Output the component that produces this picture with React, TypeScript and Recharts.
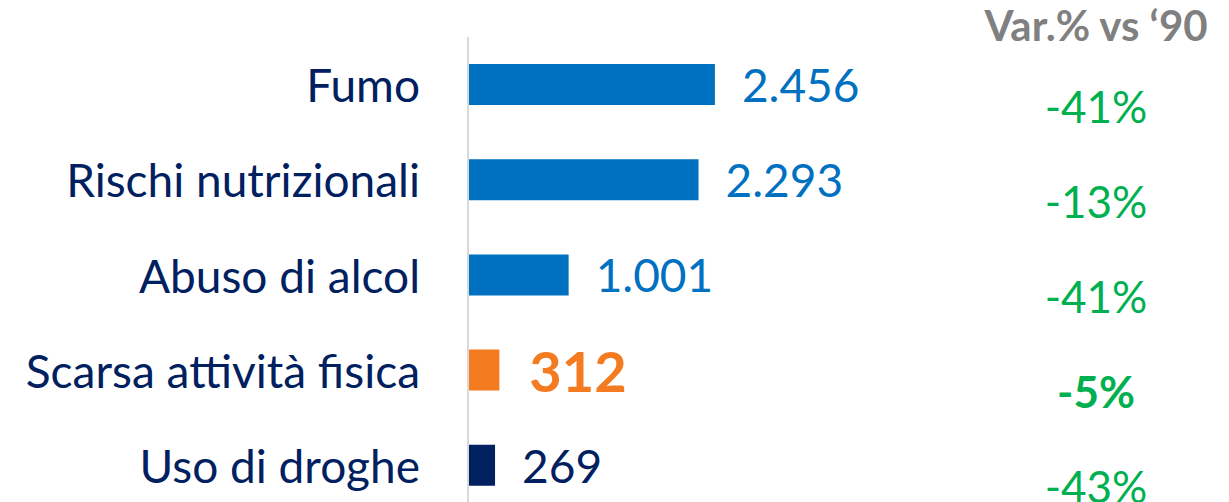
import React from 'react';
import { BarChart, Bar, XAxis, YAxis, Cell, LabelList } from 'recharts';

const categories = ['Fumo', 'Rischi nutrizionali', 'Abuso di alcol', 'Scarsa attività fisica', 'Uso di droghe'];
const values = [2456, 2293, 1001, 312, 269];
const variations = ['-41%', '-13%', '-41%', '-5%', '-43%'];
const barColors = ['#0070C0', '#0070C0', '#0070C0', '#F47B20', '#002060'];
const highlightIndex = 3;
const headerText = 'Var.% vs \u201890';

const data = categories.map((name, i) => ({ name, value: values[i], variation: variations[i] }));

const FONT = 'Lato, "Noto Sans", sans-serif';

const fmt = (v: number) => String(v).replace(/\B(?=(\d{3})+(?!\d))/g, '.');

const ValueLabel = (props: any) => {
  const { x, y, width, height, index, value } = props;
  const bold = index === highlightIndex;
  return (
    <text
      x={Number(x) + Number(width) + (bold ? 30 : 27)}
      y={Number(y) + Number(height) / 2}
      dominantBaseline="central"
      fill={barColors[index]}
      fontSize={bold ? 56 : 46}
      fontWeight={bold ? 700 : 400}
      fontFamily={FONT}
    >
      {fmt(Number(value))}
    </text>
  );
};

// Category label on the left plus the variation column on the right of the same row
const CategoryTick = (props: any) => {
  const { x, y, payload } = props;
  const i = payload.index;
  const bold = i === highlightIndex;
  return (
    <g>
      <text
        x={Number(x)}
        y={Number(y)}
        textAnchor="end"
        dominantBaseline="central"
        fill="#002060"
        fontSize={46}
        fontFamily={FONT}
      >
        {payload.value}
      </text>
      <text
        x={Number(x) + 676}
        y={Number(y) + 21}
        textAnchor="middle"
        dominantBaseline="central"
        fill="#00B050"
        fontSize={bold ? 44 : 44}
        fontWeight={bold ? 700 : 400}
        fontFamily={FONT}
      >
        {variations[i]}
      </text>
    </g>
  );
};

export default function App() {
  return (
    <div style={{ position: 'absolute', left: 0, top: 0, width: 1229, height: 502, overflow: 'hidden', background: '#fff' }}>
      <div
        style={{
          position: 'absolute',
          left: 976,
          top: 0,
          width: 240,
          textAlign: 'center',
          fontFamily: FONT,
          fontWeight: 700,
          fontSize: 42,
          lineHeight: '50px',
          color: '#808080',
        }}
      >
        {headerText}
      </div>
      <BarChart
        width={1229}
        height={513}
        data={data}
        layout="vertical"
        margin={{ top: 37, right: 7, bottom: 0, left: 0 }}
      >
        <XAxis type="number" domain={[0, 7500]} hide />
        <YAxis
          type="category"
          dataKey="name"
          width={468}
          tickLine={false}
          tickSize={0}
          tickMargin={48}
          axisLine={{ stroke: '#D9D9D9', strokeWidth: 2 }}
          tick={<CategoryTick />}
        />
        <Bar dataKey="value" barSize={41} isAnimationActive={false}>
          {data.map((d, i) => (
            <Cell key={d.name} fill={barColors[i]} />
          ))}
          <LabelList dataKey="value" content={<ValueLabel />} />
        </Bar>
      </BarChart>
    </div>
  );
}
